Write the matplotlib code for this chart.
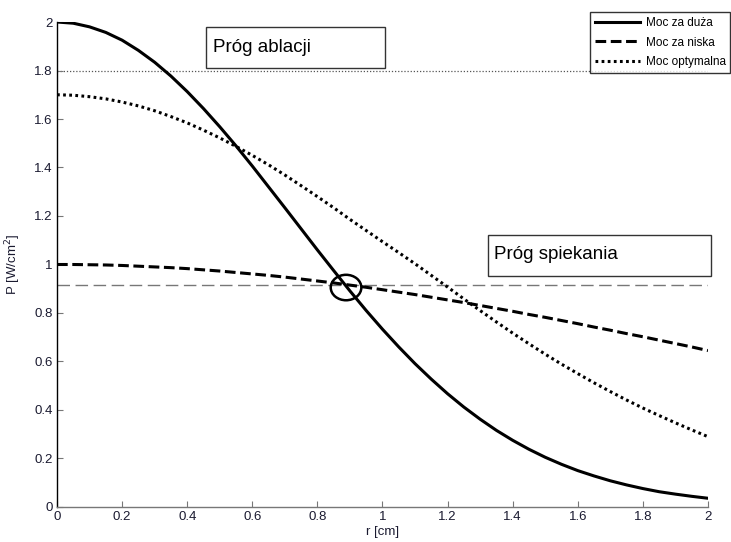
import matplotlib
matplotlib.use("Agg")
import matplotlib.pyplot as plt
from matplotlib.patches import Ellipse, Rectangle

plt.rcParams['font.family'] = ['Liberation Sans', 'DejaVu Sans']

r = [0.00, 0.05, 0.10, 0.15, 0.20, 0.25, 0.30, 0.35, 0.40, 0.45, 0.50,
     0.55, 0.60, 0.65, 0.70, 0.75, 0.80, 0.85, 0.90, 0.95, 1.00,
     1.05, 1.10, 1.15, 1.20, 1.25, 1.30, 1.35, 1.40, 1.45, 1.50,
     1.55, 1.60, 1.65, 1.70, 1.75, 1.80, 1.85, 1.90, 1.95, 2.00]
moc_duza = [2.000, 1.995, 1.980, 1.957, 1.925, 1.883, 1.834, 1.777, 1.713, 1.643, 1.568,
            1.489, 1.406, 1.320, 1.234, 1.147, 1.060, 0.975, 0.891, 0.810, 0.733,
            0.660, 0.591, 0.527, 0.467, 0.412, 0.362, 0.316, 0.275, 0.238, 0.205,
            0.176, 0.150, 0.128, 0.108, 0.091, 0.076, 0.063, 0.053, 0.044, 0.036]
moc_niska = [1.000, 1.000, 0.999, 0.998, 0.996, 0.993, 0.990, 0.987, 0.983, 0.978, 0.973,
             0.967, 0.961, 0.955, 0.948, 0.940, 0.932, 0.924, 0.915, 0.906, 0.896,
             0.886, 0.876, 0.865, 0.854, 0.843, 0.831, 0.819, 0.807, 0.794, 0.782,
             0.769, 0.756, 0.742, 0.729, 0.715, 0.702, 0.688, 0.674, 0.660, 0.645]
moc_opt = [1.700, 1.698, 1.692, 1.683, 1.670, 1.654, 1.634, 1.610, 1.584, 1.554, 1.522,
           1.487, 1.450, 1.411, 1.369, 1.325, 1.280, 1.234, 1.186, 1.140, 1.094,
           1.049, 1.003, 0.955, 0.907, 0.858, 0.810, 0.763, 0.717, 0.673, 0.630,
           0.589, 0.550, 0.512, 0.476, 0.441, 0.408, 0.377, 0.347, 0.318, 0.290]
prog_ablacji = 1.8
prog_spiekania = 0.915
ticks = [0, 0.2, 0.4, 0.6, 0.8, 1.0, 1.2, 1.4, 1.6, 1.8, 2.0]
tick_labels = ['0', '0.2', '0.4', '0.6', '0.8', '1', '1.2', '1.4', '1.6', '1.8', '2']

fig = plt.figure(figsize=(7.31, 5.42), dpi=100)
ax = fig.add_axes([0.078, 0.0646, 0.8905, 0.8948])

ax.axhline(prog_ablacji, color='#555555', lw=0.9, ls=(0, (1, 1.5)), zorder=1)
ax.axhline(prog_spiekania, color='#777777', lw=1.0, ls=(0, (9, 4)), zorder=1)

ax.plot(r, moc_duza, color='black', lw=2.2, ls='-', label='Moc za duża', zorder=3)
ax.plot(r, moc_niska, color='black', lw=2.2, ls=(0, (3.5, 1.5)), label='Moc za niska', zorder=3)
ax.plot(r, moc_opt, color='black', lw=2.2, ls=(0, (0.9, 1.1)), label='Moc optymalna', zorder=3)

ax.add_patch(Ellipse((0.888, 0.905), 0.094, 0.105, fill=False, ec='black', lw=1.8, zorder=4))

ax.set_xlim(0, 2)
ax.set_ylim(0, 2)
ax.set_xticks(ticks)
ax.set_xticklabels(tick_labels)
ax.set_yticks(ticks)
ax.set_yticklabels(tick_labels)
ax.tick_params(direction='in', length=4, color='#777777', labelsize=9.5, labelcolor='#1a1a30', pad=3)
for s in ['top', 'right']:
    ax.spines[s].set_visible(False)
ax.spines['left'].set_color('black')
ax.spines['bottom'].set_color('#777777')
ax.spines['left'].set_linewidth(1.0)
ax.spines['bottom'].set_linewidth(1.0)

ax.set_xlabel('r [cm]', fontsize=9.5, color='#1a1a30', labelpad=2)
ax.set_ylabel('P [W/cm$^2$]', fontsize=9.5, color='#1a1a30', labelpad=8)

# text boxes
ax.add_patch(Rectangle((0.458, 1.81), 0.55, 0.169, fill=True, fc='white', ec='#333333', lw=1.0,
                       zorder=5, clip_on=False))
ax.text(0.478, 1.895, 'Próg ablacji', fontsize=13.5, va='center', ha='left', zorder=6)
ax.add_patch(Rectangle((1.324, 0.952), 0.686, 0.171, fill=True, fc='white', ec='#333333', lw=1.0,
                       zorder=5, clip_on=False))
ax.text(1.344, 1.04, 'Próg spiekania', fontsize=13.5, va='center', ha='left', zorder=6)

leg = ax.legend(loc='upper right', bbox_to_anchor=(0.999, 0.977), bbox_transform=fig.transFigure,
                fontsize=8.5, frameon=True, fancybox=False, edgecolor='black', borderpad=0.4,
                handlelength=3.8, handletextpad=0.5, labelspacing=0.62, borderaxespad=0)
leg.get_frame().set_linewidth(1.0)
leg.set_zorder(7)

fig.savefig('out.png', dpi=100)
